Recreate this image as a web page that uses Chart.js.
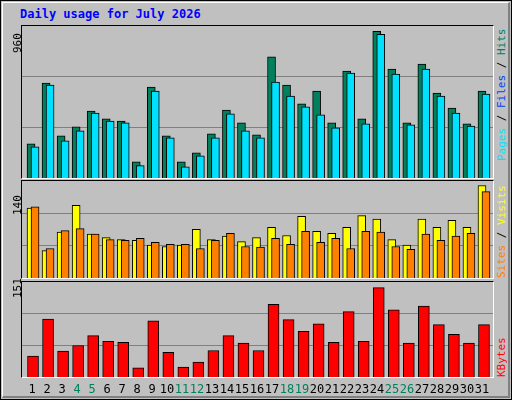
<!DOCTYPE html>
<html>
<head>
<script src="https://cdn.jsdelivr.net/npm/chart.js@4"></script>
<style>
  body { margin:0; background:#fff; }
  #box { position:absolute; left:0; top:0; width:510px; height:398px; background:#c0c0c0;
         border:1px solid #000; font-family:"DejaVu Sans Mono", monospace; }
  #box:after { content:""; position:absolute; left:1px; top:1px; right:1px; bottom:1px;
         border-top:1px solid #fff; border-left:1px solid #fff; border-right:2px solid #808080; border-bottom:2px solid #808080; pointer-events:none; }
  .panel { position:absolute; left:20px; width:471px; border-top:1px solid #000; border-left:1px solid #000;
           border-right:1px solid #fff; border-bottom:1px solid #fff; }
  canvas { display:block; }
  .title { position:absolute; left:19px; top:6px; font-weight:bold; font-size:12px; color:#0000ff; }
  .vl { position:absolute; font-size:11px; transform-origin:left top; transform:rotate(-90deg); white-space:nowrap; }
  #days span { position:absolute; top:381px; font-size:12px; width:16px; text-align:center; }
</style>
</head>
<body>
<div id="box">
  <div class="title">Daily usage for July 2026</div>
  <div class="panel" style="top:24px;height:152px"><canvas id="c1" width="471" height="152"></canvas></div>
  <div class="panel" style="top:179px;height:97px"><canvas id="c2" width="471" height="97"></canvas></div>
  <div class="panel" style="top:280px;height:95px"><canvas id="c3" width="471" height="95"></canvas></div>
  <div class="vl" style="left:10px;top:52px">960</div>
  <div class="vl" style="left:10px;top:214px">140</div>
  <div class="vl" style="left:10px;top:297px">151</div>
  <div class="vl" style="left:494px;top:160px"><span style="color:#00e0ff">Pages</span> / <span style="color:#0040ff">Files</span> / <span style="color:#00805c">Hits</span></div>
  <div class="vl" style="left:494px;top:277px"><span style="color:#ff8000">Sites</span> / <span style="color:#ffff00">Visits</span></div>
  <div class="vl" style="left:494px;top:376px"><span style="color:#ff0000">KBytes</span></div>
  <div id="days"></div>
</div>
<script>
const days = Array.from({length:31}, (_, i) => i + 1);
const weekend = [4, 5, 11, 12, 18, 19, 25, 26];
const hits   = [219,607,270,327,429,378,365,104,582,270,104,161,282,435,353,276,775,595,474,556,353,684,378,939,697,353,729,544,448,346,556];
const files  = [200,595,238,302,416,365,353,79,556,257,72,142,257,410,302,257,614,525,455,404,321,671,346,920,665,340,697,525,416,333,537];
const visits = [102,40,67,106,64,59,56,55,48,46,48,71,56,61,53,59,74,62,90,68,65,74,91,86,56,48,86,74,84,74,135];
const sites  = [104,43,69,72,64,56,55,58,52,49,49,43,55,65,46,45,58,49,68,52,58,43,68,67,46,42,64,55,61,65,126];
const kbytes = [34,94,42,51,67,58,56,15,91,40,16,24,43,67,55,43,118,93,74,86,56,106,58,145,109,55,115,85,69,55,85];

// day labels
const dl = document.getElementById("days");
days.forEach(d => {
  const s = document.createElement("span");
  s.textContent = d;
  s.style.left = (20 + 11 + (d - 1) * 15 - 8) + "px";
  s.style.color = weekend.includes(d) ? "#00805c" : "#000";
  dl.appendChild(s);
});

// first set in the list is drawn on top
function panel(id, max, sets) {
  new Chart(document.getElementById(id), {
    type: "bar",
    data: { datasets: sets.map(s => ({
      data: s.values.map((v, i) => ({ x: days[i] + s.shift, y: v })),
      backgroundColor: s.color, borderColor: "#000", borderWidth: 1,
      barThickness: s.width, grouped: false
    })) },
    options: {
      responsive: false, animation: false,
      layout: { padding: 0 },
      plugins: { legend: { display: false }, tooltip: { enabled: false } },
      scales: {
        x: { type: "linear", min: 0.267, max: 31.6, offset: false, display: false },
        y: { min: 0, max: max, border: { display: false },
             ticks: { display: false },
             afterBuildTicks: ax => { ax.ticks = [{ value: max / 3 }, { value: max * 2 / 3 }]; },
             grid: { color: "#808080", drawTicks: false } }
      }
    }
  });
}

panel("c1", 973, [
  { values: files, color: "#00e0ff", shift: 0.133,  width: 8 },
  { values: hits,  color: "#00805c", shift: -0.133, width: 8 }
]);
panel("c2", 141.5, [
  { values: sites,  color: "#ff8000", shift: 0.133,  width: 8 },
  { values: visits, color: "#ffff00", shift: -0.133, width: 8 }
]);
panel("c3", 154, [
  { values: kbytes, color: "#ff0000", shift: 0, width: 11 }
]);
</script>
</body>
</html>
